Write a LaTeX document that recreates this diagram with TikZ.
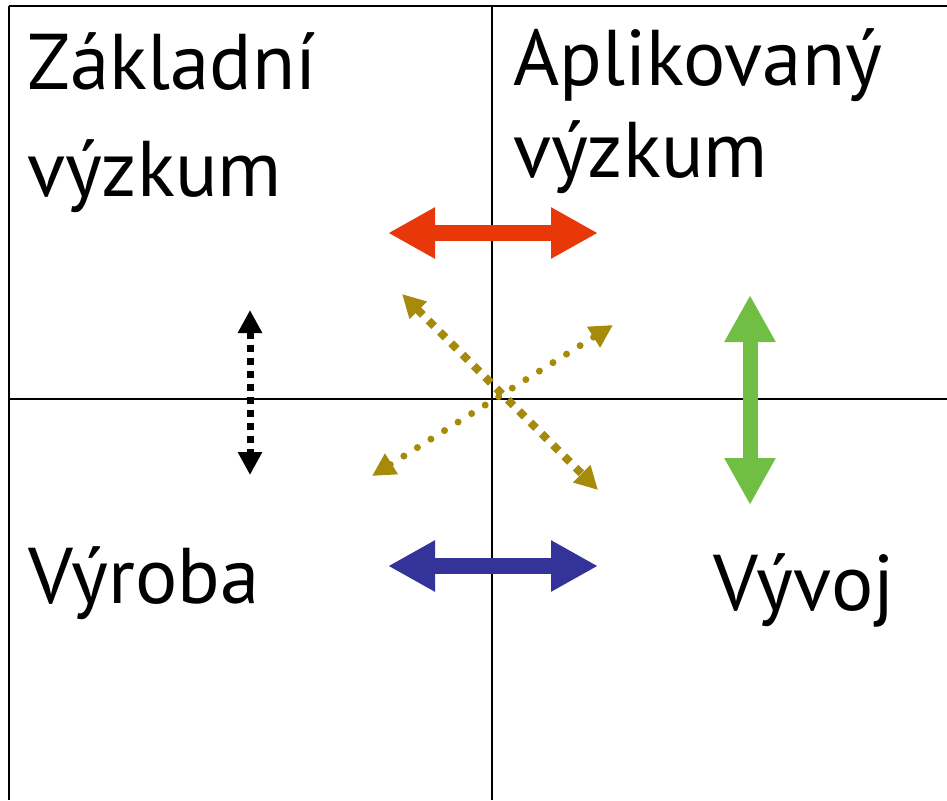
\documentclass[tikz,border=0pt]{standalone}
\usepackage{fontspec}
\setmainfont{PT Sans}
\usetikzlibrary{arrows.meta}
\definecolor{sipred}{RGB}{232,56,10}
\definecolor{sipblue}{RGB}{51,51,153}
\definecolor{sipgreen}{RGB}{112,191,68}
\definecolor{sipolive}{RGB}{166,139,10}
\tikzset{
  grid line/.style={line width=2pt},
  label text/.style={anchor=base west,inner sep=0pt,align=left,font=\fontsize{79}{107}\selectfont},
  block/.style={line width=16pt,{Triangle[length=47pt,width=48pt]}-{Triangle[length=47pt,width=48pt]}},
  small tip/.style={{Triangle[length=23pt,width=23pt]}-{Triangle[length=23pt,width=23pt]}}
}
\begin{document}
\begin{tikzpicture}[x=1pt,y=-1pt]
\useasboundingbox (0,0) rectangle (947,800);
%\draw[step=50,gray,very thin] (0,0) grid (947,800);
% quadrants
\draw[grid line] (9,6)--(947,6);
\draw[grid line] (9,6)--(9,800);
\draw[grid line] (492,6)--(492,800);
\draw[grid line] (9,399)--(947,399);
% labels
\node[label text] (zakl) at (27,196) {Základní\\výzkum};
\node[label text,font=\fontsize{79}{92}\selectfont] (apl) at (513,177) {Aplikovaný\\výzkum};
\node[label text] (vyr) at (28,603) {Výroba};
\node[label text] (vyv) at (713,610) {Vývoj};
% arrow ends
\coordinate (r1) at (388,233); \coordinate (r2) at (598,233);
\coordinate (b1) at (388,566); \coordinate (b2) at (598,566);
\coordinate (g1) at (750,295); \coordinate (g2) at (750,505);
\coordinate (k1) at (250,310); \coordinate (k2) at (250,475);
\coordinate (d1) at (402,294); \coordinate (d2) at (598,490);
\coordinate (o1) at (372,476); \coordinate (o2) at (613,325);
% arrows
\draw[block,sipred] (r1) -- (r2);
\draw[block,sipblue] (b1) -- (b2);
\draw[block,sipgreen,line width=15pt] (g1) -- (g2);
\draw[small tip,line width=7pt,dash pattern=on 7pt off 6pt] (k1) -- (k2);
\draw[small tip,sipolive,line width=8pt,dash pattern=on 8pt off 8pt] (d1) -- (d2);
\draw[small tip,sipolive,line width=7pt,line cap=round,dash pattern=on 0pt off 16pt] (o1) -- (o2);
\end{tikzpicture}
\end{document}
